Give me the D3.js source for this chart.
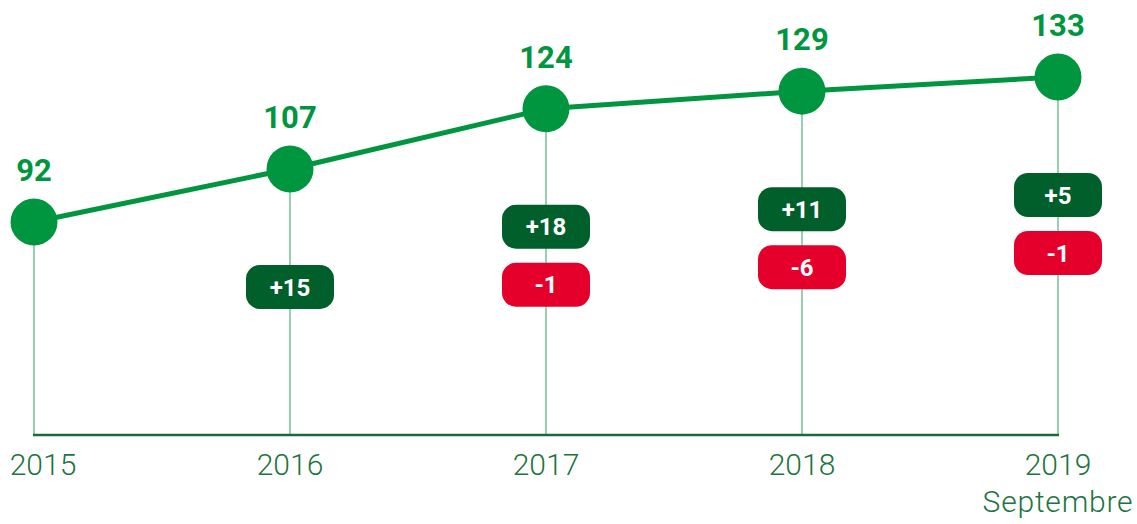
<!DOCTYPE html>
<html>
<head>
<meta charset="utf-8">
<script src="https://cdn.jsdelivr.net/npm/d3@7"></script>
<style>
  html, body { margin: 0; padding: 0; background: #fff; }
  svg { display: block; font-family: Roboto, "DejaVu Sans", sans-serif; }
</style>
</head>
<body>
<div id="chart"></div>
<script>
// chart data
const years = ["2015", "2016", "2017", "2018", "2019"];
const subLabels = ["", "", "", "", "Septembre"];
const totals = [92, 107, 124, 129, 133];
const gains = [null, 15, 18, 11, 5];
const losses = [null, null, -1, -6, -1];

const width = 1137;
const height = 524;
const baseY = 435;
const pointRadius = 23.5;
const badgeW = 88, badgeH = 44;

const green = "#009640";
const darkGreen = "#005f2a";
const red = "#e4002b";

const svg = d3.select("#chart")
	.append("svg")
	.attr("width", width)
	.attr("height", height)
	.attr("viewBox", [0, 0, width, height]);

const x = d3.scalePoint()
	.domain(years)
	.range([34, 1058]);

const y = d3.scaleLinear()
	.domain([92, 133])
	.range([222, 77]);

const rows = years.map((yr, i) => ({
	year: yr,
	sub: subLabels[i],
	total: totals[i],
	gain: gains[i],
	loss: losses[i]
}));

// thin drop lines
svg.append("g")
	.selectAll("line")
	.data(rows)
	.join("line")
	.attr("x1", d => x(d.year))
	.attr("x2", d => x(d.year))
	.attr("y1", d => y(d.total))
	.attr("y2", baseY)
	.attr("stroke", "#5fb884")
	.attr("stroke-width", 1.3);

// baseline
svg.append("line")
	.attr("x1", x(years[0]) - 1)
	.attr("x2", x(years[years.length - 1]) + 1)
	.attr("y1", baseY)
	.attr("y2", baseY)
	.attr("stroke", "#1b6b3a")
	.attr("stroke-width", 2.5);

// year labels
const labels = svg.append("g")
	.attr("fill", "#1d7442")
	.attr("font-weight", 300)
	.attr("font-size", 30)
	.attr("text-anchor", "middle");

labels.selectAll("text.year")
	.data(rows)
	.join("text")
	.attr("class", "year")
	.attr("x", (d, i) => x(d.year) + (i === 0 ? 9 : 0))
	.attr("y", 475)
	.text(d => d.year);

labels.selectAll("text.sub")
	.data(rows.filter(d => d.sub))
	.join("text")
	.attr("class", "sub")
	.attr("x", d => x(d.year))
	.attr("y", 512)
	.attr("letter-spacing", 0.8)
	.text(d => d.sub);

// line
const line = d3.line()
	.x(d => x(d.year))
	.y(d => y(d.total));

svg.append("path")
	.datum(rows)
	.attr("d", line)
	.attr("fill", "none")
	.attr("stroke", green)
	.attr("stroke-width", 5);

// points
svg.append("g")
	.selectAll("circle")
	.data(rows)
	.join("circle")
	.attr("cx", d => x(d.year))
	.attr("cy", d => y(d.total))
	.attr("r", pointRadius)
	.attr("fill", green);

// value labels
svg.append("g")
	.attr("fill", green)
	.attr("font-weight", 700)
	.attr("font-size", 31)
	.attr("text-anchor", "middle")
	.selectAll("text")
	.data(rows)
	.join("text")
	.attr("x", d => x(d.year))
	.attr("y", d => y(d.total) - 41)
	.text(d => d.total);

// badges
function badge(sel, color, fmt, offset) {
	const g = sel.append("g")
		.attr("transform", d => `translate(${x(d.year)},${y(d.total) + offset})`);
	g.append("rect")
		.attr("x", -badgeW / 2)
		.attr("y", -badgeH / 2)
		.attr("width", badgeW)
		.attr("height", badgeH)
		.attr("rx", 14)
		.attr("fill", color);
	g.append("text")
		.attr("text-anchor", "middle")
		.attr("dy", "0.36em")
		.attr("fill", "#fff")
		.attr("font-weight", 700)
		.attr("font-size", 24)
		.text(fmt);
}

svg.append("g")
	.selectAll("g")
	.data(rows.filter(d => d.gain !== null))
	.join(enter => badge(enter, darkGreen, d => `+${d.gain}`, 118));

svg.append("g")
	.selectAll("g")
	.data(rows.filter(d => d.loss !== null))
	.join(enter => badge(enter, red, d => `${d.loss}`, 176));
</script>
</body>
</html>
